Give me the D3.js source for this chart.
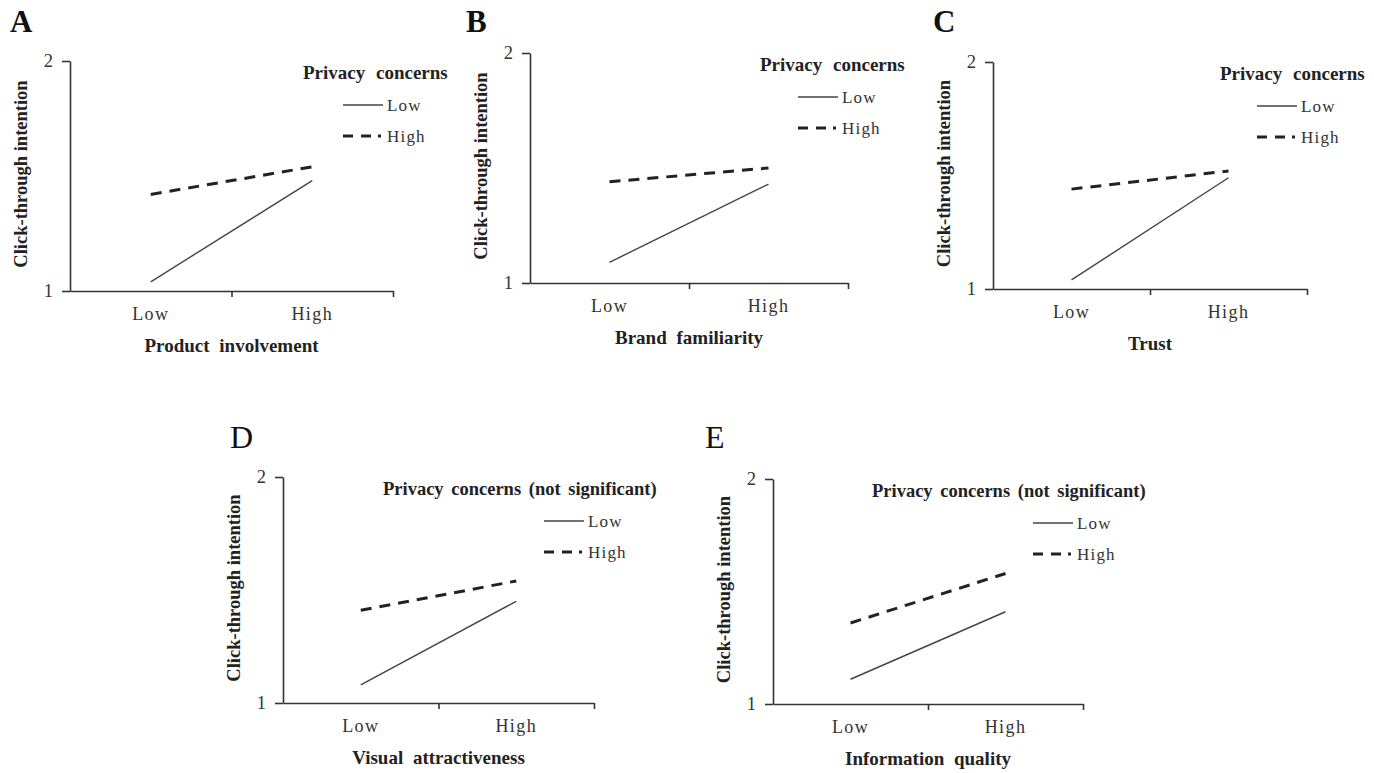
<!DOCTYPE html>
<html>
<head>
<meta charset="utf-8">
<script src="https://cdn.jsdelivr.net/npm/d3@7"></script>
<style>
  html, body { margin: 0; padding: 0; background: #fff; }
  svg { display: block; font-family: "Liberation Serif", "Times New Roman", serif; }
  .domain, .tick line { stroke: #333; stroke-width: 1.6; }
  .tick text { fill: #333; }
</style>
</head>
<body>
<svg id="chart" width="1374" height="773"></svg>
<script>
(function () {
  "use strict";

  // data
  var panelLetters = ["A", "B", "C", "D", "E"];
  var letterBold = [true, true, true, false, false];
  var xTitles = ["Product involvement", "Brand familiarity", "Trust", "Visual attractiveness", "Information quality"];
  var legendTitles = ["Privacy concerns", "Privacy concerns", "Privacy concerns",
    "Privacy concerns (not significant)", "Privacy concerns (not significant)"];
  var yTitle = "Click-through intention";
  var categories = ["Low", "High"];
  var yTicks = [1, 2];
  var seriesNames = ["Low", "High"];
  var lowValues = [[1.04, 1.48], [1.09, 1.43], [1.04, 1.49], [1.08, 1.45], [1.11, 1.41]];
  var highValues = [[1.42, 1.54], [1.44, 1.50], [1.44, 1.52], [1.41, 1.54], [1.36, 1.58]];

  // layout of each panel's plot area
  var frames = [
    { left: 70, top: 61, right: 393, bottom: 291, letterX: 10, letterY: 32, legendX: 303 },
    { left: 530, top: 53, right: 848, bottom: 283, letterX: 466, letterY: 32, legendX: 760 },
    { left: 993, top: 62, right: 1307, bottom: 289, letterX: 933, letterY: 32, legendX: 1220 },
    { left: 283, top: 477, right: 594, bottom: 703, letterX: 230, letterY: 448, legendX: 383 },
    { left: 773, top: 479, right: 1083, bottom: 704, letterX: 705, letterY: 448, legendX: 872 }
  ];

  var svg = d3.select("#chart");

  function drawPanel(i) {
    var f = frames[i];
    var g = svg.append("g").attr("class", "panel");
    var shortTitle = legendTitles[i].length < 20;

    var x = d3.scaleBand().domain(categories).range([f.left, f.right]);
    var xEdge = d3.scaleLinear().domain([0, categories.length]).range([f.left, f.right]);
    var y = d3.scaleLinear().domain([1, 2]).range([f.bottom, f.top]);

    // panel letter
    g.append("text")
        .attr("x", f.letterX)
        .attr("y", f.letterY)
        .style("font-size", letterBold[i] ? "31px" : "32px")
        .style("font-weight", letterBold[i] ? "bold" : "normal")
        .style("fill", "#111")
        .text(panelLetters[i]);

    // y axis
    g.append("g")
        .attr("transform", "translate(" + f.left + ",0)")
        .call(d3.axisLeft(y).tickValues(yTicks).tickFormat(d3.format("d"))
            .tickSize(8).tickPadding(9).tickSizeOuter(0))
        .call(function (a) {
          a.selectAll(".tick text").style("font-size", "18.5px").style("font-family", "Liberation Serif");
        });

    // x axis: ticks on the band edges
    g.append("g")
        .attr("transform", "translate(0," + f.bottom + ")")
        .call(d3.axisBottom(xEdge).tickValues([1, 2]).tickSize(6).tickSizeOuter(0).tickFormat(""));

    // category labels at band centres
    g.append("g")
        .attr("transform", "translate(0," + f.bottom + ")")
        .call(d3.axisBottom(x).tickSize(0).tickPadding(16))
        .call(function (a) {
          a.select(".domain").remove();
          a.selectAll(".tick text")
              .style("font-size", "18px")
              .style("letter-spacing", "1.4px")
              .style("font-family", "Liberation Serif");
        });

    // y title
    g.append("text")
        .attr("transform", "translate(" + (f.left - 43) + "," + ((f.top + f.bottom) / 2 - 2) + ") rotate(-90)")
        .attr("text-anchor", "middle")
        .style("font-size", "18.5px")
        .style("font-weight", "bold")
        .style("fill", "#222")
        .text(yTitle);

    // x title
    g.append("text")
        .attr("x", (f.left + f.right) / 2)
        .attr("y", f.bottom + 61)
        .attr("text-anchor", "middle")
        .style("font-size", "19px")
        .style("font-weight", "bold")
        .style("word-spacing", "5px")
        .style("fill", "#222")
        .text(xTitles[i]);

    // lines
    var line = d3.line()
        .x(function (d, j) { return x(categories[j]) + x.bandwidth() / 2; })
        .y(function (d) { return y(d); });

    g.append("path")
        .datum(lowValues[i])
        .attr("d", line)
        .attr("fill", "none")
        .attr("stroke", "#444")
        .attr("stroke-width", 1.4);

    g.append("path")
        .datum(highValues[i])
        .attr("d", line)
        .attr("fill", "none")
        .attr("stroke", "#222")
        .attr("stroke-width", 3)
        .attr("stroke-dasharray", "11,8");

    // legend
    var lg = g.append("g");
    lg.append("text")
        .attr("x", f.legendX)
        .attr("y", f.top + 18)
        .style("font-size", shortTitle ? "19px" : "18.5px")
        .style("font-weight", "bold")
        .style("word-spacing", shortTitle ? "6px" : "3px")
        .style("fill", "#222")
        .text(legendTitles[i]);

    var items = lg.selectAll("g.item")
        .data(seriesNames)
        .enter().append("g")
        .attr("class", "item")
        .attr("transform", function (d, j) {
          return "translate(" + (f.right - 50) + "," + (f.top + 44 + j * 31) + ")";
        });

    items.append("line")
        .attr("x1", 0)
        .attr("x2", 40)
        .attr("stroke", function (d, j) { return j === 0 ? "#444" : "#222"; })
        .attr("stroke-width", function (d, j) { return j === 0 ? 1.4 : 3; })
        .attr("stroke-dasharray", function (d, j) { return j === 0 ? null : "10,8,10,7,3"; });

    items.append("text")
        .attr("x", 44)
        .attr("y", 6)
        .style("font-size", "17px")
        .style("letter-spacing", "1.2px")
        .style("fill", "#333")
        .text(function (d) { return d; });
  }

  panelLetters.forEach(function (d, i) { drawPanel(i); });
}());
</script>
</body>
</html>
